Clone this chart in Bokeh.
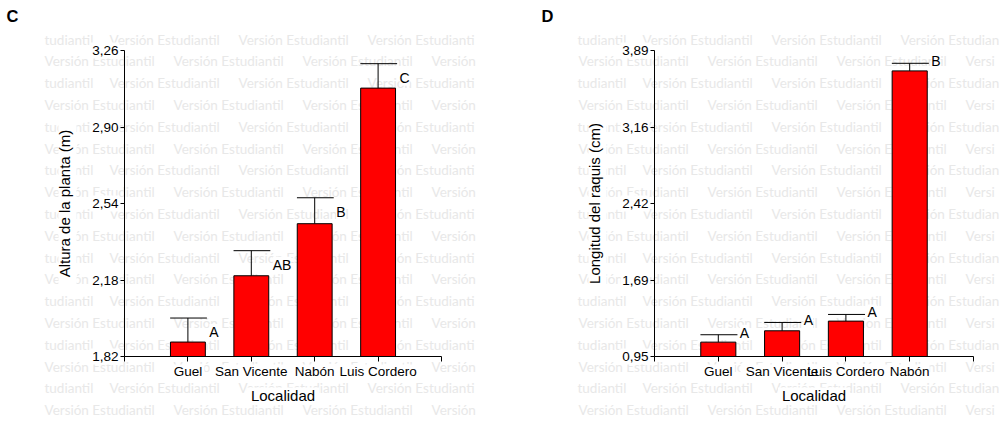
from bokeh.core.properties import value
from bokeh.embed import file_html
from bokeh.layouts import column, row
from bokeh.models import FixedTicker, LinearAxis, Range1d
from bokeh.plotting import figure
from bokeh.resources import INLINE

# C: plant height (m) by locality
loc_c = ["Guel", "San Vicente", "Nabón", "Luis Cordero"]
altura_media = [1.888, 2.200, 2.445, 3.083]
altura_ee = [0.113, 0.118, 0.122, 0.115]
altura_letras = ["A", "AB", "B", "C"]
altura_ticks = [1.82, 2.18, 2.54, 2.90, 3.26]
altura_tick_labels = ["1,82", "2,18", "2,54", "2,90", "3,26"]

# D: rachis length (cm) by locality
loc_d = ["Guel", "San Vicente", "Luis Cordero", "Nabón"]
raquis_media = [1.088, 1.197, 1.290, 3.694]
raquis_ee = [0.071, 0.080, 0.064, 0.073]
raquis_letras = ["A", "A", "A", "B"]
raquis_ticks = [0.95, 1.685, 2.42, 3.155, 3.89]
raquis_tick_labels = ["0,95", "1,69", "2,42", "3,16", "3,89"]

FONT = "Liberation Sans"
WM_FONT = "Lato"
WM_TEXT = "Versión Estudiantil"
WIDTH, HEIGHT = 1001, 421
TOP, BOTTOM = 50, 65
FRAME_BOTTOM = HEIGHT - BOTTOM
BAR_W = 0.55


def panel(cats, means, errs, letters, ylabel, yticks, ylabels,
          width, left, right, letter_dy):
    n = len(cats)
    p = figure(width=width, height=HEIGHT, output_backend="svg",
               toolbar_location=None, x_range=Range1d(0, n + 1),
               y_range=Range1d(yticks[0], yticks[-1]),
               x_axis_type=None, y_axis_type=None,
               min_border_left=left, min_border_right=width - right,
               min_border_top=TOP, min_border_bottom=BOTTOM)
    # transparent, so the sheet underneath shows through
    p.outline_line_color = None
    p.background_fill_color = None
    p.border_fill_color = None

    xs = [i + 1 for i in range(n)]
    upper = [m + e for m, e in zip(means, errs)]

    p.vbar(x=xs, bottom=yticks[0], top=means, width=BAR_W,
           fill_color="#ff0000", line_color="black", line_width=1)
    p.segment(x0=xs, y0=means, x1=xs, y1=upper, line_color="black",
              line_width=1)
    p.segment(x0=[x - 0.28 for x in xs], y0=upper,
              x1=[x + 0.30 for x in xs], y1=upper,
              line_color="black", line_width=1)
    p.text(x=[x + BAR_W / 2 for x in xs], y=upper, text=letters,
           x_offset=4, y_offset=letter_dy, text_font=value(FONT),
           text_font_size="14px", text_color="black", text_align="left",
           text_baseline="middle", background_fill_color="white")

    yaxis = LinearAxis(ticker=FixedTicker(ticks=yticks),
                       major_label_overrides=dict(zip(yticks, ylabels)),
                       axis_label=ylabel)
    xlabels = {0: "", n + 1: ""}
    xlabels.update({x: c for x, c in zip(xs, cats)})
    xaxis = LinearAxis(ticker=FixedTicker(ticks=list(range(n + 2))),
                       major_label_overrides=xlabels,
                       axis_label="Localidad")
    for ax, tick_out in ((yaxis, 4), (xaxis, 5)):
        ax.axis_line_color = "black"
        ax.axis_line_width = 1
        ax.major_tick_line_color = "black"
        ax.major_tick_out = tick_out
        ax.major_tick_in = 0
        ax.minor_tick_out = 0
        ax.minor_tick_in = 0
        ax.major_label_standoff = 2
        ax.major_label_text_font = FONT
        ax.major_label_text_font_size = "13.5px"
        ax.major_label_text_color = "black"
        ax.axis_label_text_font = FONT
        ax.axis_label_text_font_size = "15px"
        ax.axis_label_text_font_style = "normal"
        ax.axis_label_text_color = "black"
    yaxis.axis_label_standoff = 16
    xaxis.axis_label_standoff = 5
    p.add_layout(yaxis, "left")
    p.add_layout(xaxis, "below")
    return p


def label_boxes(cats, ylabel, yticks, left, right):
    """White patches (screen px) that keep the licence text away from
    the axis labels of one panel."""
    n = len(cats)
    y0, y1 = yticks[0], yticks[-1]
    boxes = []
    for t in yticks:
        py = FRAME_BOTTOM - (t - y0) / (y1 - y0) * (FRAME_BOTTOM - TOP)
        boxes.append((left - 34, left - 5, py - 8, py + 8))
    for i, c in enumerate(cats):
        px = left + (i + 1) / (n + 1) * (right - left)
        half = 3.6 * len(c) + 2
        boxes.append((px - half, px + half, FRAME_BOTTOM + 8,
                      FRAME_BOTTOM + 25))
    mid_x = (left + right) / 2
    boxes.append((mid_x - 36, mid_x + 36, FRAME_BOTTOM + 31,
                  FRAME_BOTTOM + 48))
    mid_y = (TOP + FRAME_BOTTOM) / 2
    half = 3.5 * len(ylabel) + 2
    boxes.append((left - 66, left - 48, mid_y - half, mid_y + half))
    return boxes


# sheet behind both panels: panel tags and the faint student-licence text
sheet = figure(width=WIDTH, height=HEIGHT, output_backend="svg",
               toolbar_location=None, x_range=Range1d(0, WIDTH),
               y_range=Range1d(HEIGHT, 0), x_axis_type=None,
               y_axis_type=None, min_border=0)
sheet.outline_line_color = None
sheet.background_fill_color = "white"
sheet.border_fill_color = "white"

wm_rows = {
    0: [(44, "tudiantil"), (109, WM_TEXT), (238, WM_TEXT),
        (367, "Versión Estudianti"),
        (577, "tudiantil"), (642, WM_TEXT), (771, WM_TEXT),
        (900, "Versión Estudian")],
    1: [(44, WM_TEXT), (173, WM_TEXT), (302, WM_TEXT), (431, "Versión"),
        (578, WM_TEXT), (707, WM_TEXT), (836, WM_TEXT), (965, "Versi")],
}
wx, wy, wt = [], [], []
for k in range(18):
    for px, t in wm_rows[k % 2]:
        wx.append(px)
        wy.append(39 + 21.8 * k)
        wt.append(t)
sheet.text(x=wx, y=wy, text=wt, text_font=value(WM_FONT),
           text_font_size="13.5px", text_color="#e8e8e8",
           text_baseline="middle", text_align="left")

boxes = (label_boxes(loc_c, "Altura de la planta (m)", altura_ticks,
                     124, 441)
         + label_boxes(loc_d, "Longitud del raquis (cm)", raquis_ticks,
                       654, 973))
sheet.quad(left=[b[0] for b in boxes], right=[b[1] for b in boxes],
           top=[b[2] for b in boxes], bottom=[b[3] for b in boxes],
           fill_color="white", line_color=None)

sheet.text(x=[6, 541], y=[15, 15], text=["C", "D"],
           text_font=value(FONT), text_font_style="bold",
           text_font_size="16.5px", text_color="black",
           text_baseline="middle", text_align="left")

pc = panel(loc_c, altura_media, altura_ee, altura_letras,
           "Altura de la planta (m)", altura_ticks, altura_tick_labels,
           width=500, left=124, right=441, letter_dy=14)

pd_ = panel(loc_d, raquis_media, raquis_ee, raquis_letras,
            "Longitud del raquis (cm)", raquis_ticks, raquis_tick_labels,
            width=501, left=154, right=473, letter_dy=-2)

charts = row(pc, pd_, margin=(-HEIGHT, 0, 0, 0))
layout = column(sheet, charts)
open("out.html", "w").write(file_html(layout, INLINE))
